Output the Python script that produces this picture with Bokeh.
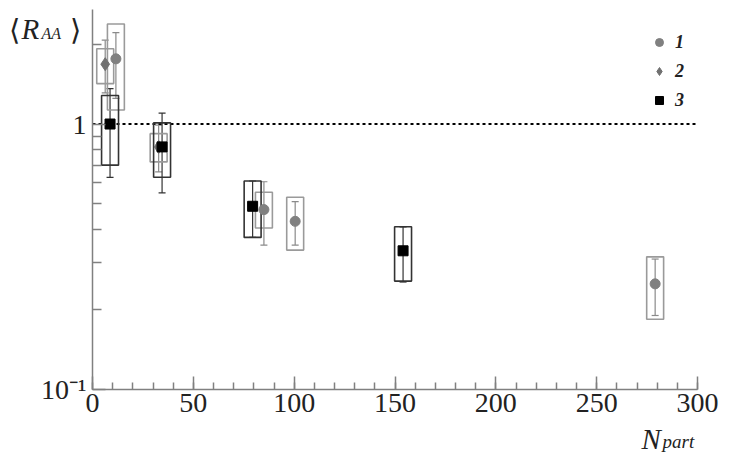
import math
from bokeh.plotting import figure
from bokeh.models import (ColumnDataSource, Label, Legend, LegendItem,
                          FixedTicker, Whisker, TeeHead, Range1d)
from bokeh.embed import file_html
from bokeh.resources import INLINE

# ---- data ----
# series 1 (grey circles)
s1_n = [11.6, 85.0, 100.5, 279.0]
s1_val = [1.76, 0.476, 0.43, 0.25]
s1_stat_lo = [1.25, 0.35, 0.35, 0.19]
s1_stat_hi = [2.21, 0.606, 0.51, 0.31]
s1_sys_lo = [1.13, 0.406, 0.335, 0.184]
s1_sys_hi = [2.38, 0.553, 0.53, 0.316]

# series 2 (grey diamonds)
s2_n = [6.3, 32.8]
s2_val = [1.68, 0.82]
s2_stat_lo = [1.31, 0.66]
s2_stat_hi = [2.07, 0.99]
s2_sys_lo = [1.42, 0.72]
s2_sys_hi = [1.92, 0.92]

# series 3 (black squares)
s3_n = [8.7, 34.5, 79.4, 154.0]
s3_val = [1.0, 0.82, 0.49, 0.333]
s3_stat_lo = [0.63, 0.55, 0.374, 0.254]
s3_stat_hi = [1.36, 1.10, 0.61, 0.41]
s3_sys_lo = [0.70, 0.63, 0.374, 0.256]
s3_sys_hi = [1.28, 1.01, 0.61, 0.41]

x_major = [0, 50, 100, 150, 200, 250, 300]
x_minor = list(range(0, 301, 10))
y_major = [0.1, 1]
y_minor = [0.2, 0.3, 0.4, 0.5, 0.6, 0.7, 0.8, 0.9, 2]
y_top = 2.7
ref_level = 1.0
legend_labels = ["1", "2", "3"]

SERIF = "'Liberation Serif', 'Times New Roman', serif"
BOX_HALF = 4.2
TXT = "#222222"
AX = "#808080"

# ---- layout: the frame covers the whole canvas, axes are pinned inside ----
W, H = 719, 455
AX_L, AX_R, AX_T, AX_B = 92, 697, 9, 389        # axis box in canvas px
ppx = (AX_R - AX_L) / (x_major[-1] - x_major[0])
x_start = x_major[0] - AX_L / ppx
x_end = x_major[-1] + (W - AX_R) / ppx
dec = (AX_B - AX_T) / (math.log10(y_top) - math.log10(y_major[0]))
y_start = 10 ** (math.log10(y_major[0]) - (H - AX_B) / dec)
y_end = 10 ** (math.log10(y_top) + AX_T / dec)

p = figure(width=W, height=H, min_border=0, y_axis_type="log",
           x_range=Range1d(x_start, x_end), y_range=Range1d(y_start, y_end),
           output_backend="svg", toolbar_location=None)
p.outline_line_color = None
p.grid.visible = False

p.xaxis.fixed_location = y_major[0]
p.xaxis.bounds = (x_major[0], x_major[-1])
p.yaxis.fixed_location = x_major[0]
p.yaxis.bounds = (y_major[0], y_top)

for ax in (p.xaxis[0], p.yaxis[0]):
    ax.axis_line_color = AX
    ax.axis_line_width = 1.5
    ax.major_tick_line_color = AX
    ax.minor_tick_line_color = AX
    ax.major_tick_line_width = 1.5
    ax.minor_tick_line_width = 1.5
    ax.major_tick_out = 0
    ax.minor_tick_out = 0
    ax.major_label_text_font = SERIF
    ax.major_label_text_font_size = "28px"
    ax.major_label_text_color = TXT

p.xaxis.ticker = FixedTicker(ticks=x_major, minor_ticks=x_minor)
p.xaxis.major_tick_in = 13
p.xaxis.minor_tick_in = 7
p.xaxis.major_label_standoff = 4

p.yaxis.ticker = FixedTicker(ticks=y_major, minor_ticks=y_minor)
p.yaxis.major_tick_in = 13
p.yaxis.minor_tick_in = 9
p.yaxis.major_label_overrides = {0.1: "10\u207b\u00b9", 1: "1"}
p.yaxis.major_label_standoff = 6

# dotted reference line at 1, across the axis range
p.line(x=[x_major[0], x_major[-1]], y=[ref_level, ref_level],
       line_color="black", line_width=2, line_dash="3 3")


def draw_series(n, val, slo, shi, ylo, yhi, box_color, bar_color):
    src = ColumnDataSource(dict(
        n=n, val=val, slo=slo, shi=shi, ylo=ylo, yhi=yhi,
        left=[v - BOX_HALF for v in n], right=[v + BOX_HALF for v in n]))
    p.quad(left="left", right="right", bottom="ylo", top="yhi", source=src,
           fill_color=None, line_color=box_color, line_width=1.6)
    p.add_layout(Whisker(source=src, base="n", lower="slo", upper="shi",
                         line_color=bar_color, line_width=1.2,
                         upper_head=TeeHead(size=7, line_color=bar_color, line_width=1.2),
                         lower_head=TeeHead(size=7, line_color=bar_color, line_width=1.2)))
    return src


src1 = draw_series(s1_n, s1_val, s1_stat_lo, s1_stat_hi, s1_sys_lo, s1_sys_hi,
                   "#9a9a9a", "#8a8a8a")
src2 = draw_series(s2_n, s2_val, s2_stat_lo, s2_stat_hi, s2_sys_lo, s2_sys_hi,
                   "#9a9a9a", "#8a8a8a")
src3 = draw_series(s3_n, s3_val, s3_stat_lo, s3_stat_hi, s3_sys_lo, s3_sys_hi,
                   "#333333", "#333333")

r1 = p.scatter("n", "val", source=src1, marker="circle", size=10,
               fill_color="#808080", line_color="#808080")
r2 = p.scatter("n", "val", source=src2, marker="diamond", size=13,
               fill_color="#707070", line_color="#707070")
r3 = p.scatter("n", "val", source=src3, marker="square", size=10,
               fill_color="black", line_color="black")

legend = Legend(items=[LegendItem(label=legend_labels[0], renderers=[r1]),
                       LegendItem(label=legend_labels[1], renderers=[r2]),
                       LegendItem(label=legend_labels[2], renderers=[r3])],
                location=(649, 344), glyph_width=20, glyph_height=22,
                label_height=20, spacing=7, padding=5, label_standoff=6,
                border_line_color=None, background_fill_alpha=0,
                label_text_font=SERIF, label_text_font_style="bold italic",
                label_text_font_size="18px", label_text_color=TXT)
p.add_layout(legend, "center")


def screen_label(x, y_from_top, text, size, style="normal"):
    p.add_layout(Label(x=x, y=H - y_from_top, x_units="screen", y_units="screen",
                       text=text, text_font=SERIF, text_font_style=style,
                       text_font_size=size, text_color=TXT,
                       text_baseline="alphabetic"))


# axis titles
screen_label(8, 29, "\u27e8", "29px")
screen_label(21, 28, "R", "29px", "italic")
screen_label(41, 33, "AA", "16px", "italic")
screen_label(69, 29, "\u27e9", "29px")

screen_label(641, 438, "N", "29px", "italic")
screen_label(662, 441, "part", "19px", "italic")

open("out.html", "w").write(file_html(p, INLINE))
